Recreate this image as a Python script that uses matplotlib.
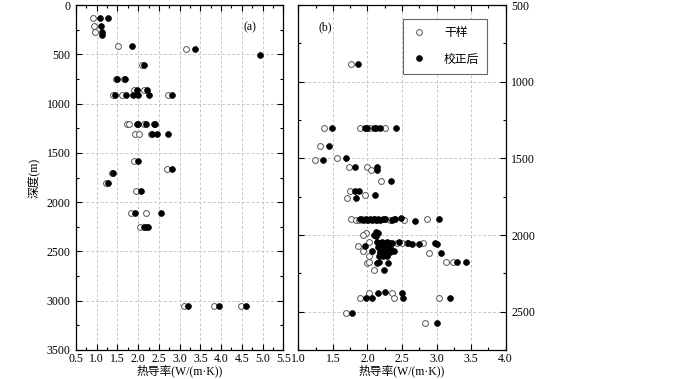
import matplotlib
matplotlib.use("Agg")
import matplotlib.pyplot as plt
from matplotlib.ticker import MultipleLocator
from matplotlib.lines import Line2D

plt.rcParams['font.family'] = ['Liberation Serif', 'Noto Sans CJK SC']
plt.rcParams['font.size'] = 8

# panel (a): thermal conductivity (W/(m·K)) and depth (m)
a_dry_k = [0.90, 0.94, 0.97, 1.51, 3.15, 2.10, 1.46, 1.66, 1.90, 2.15, 1.39, 1.62, 2.71,
           1.73, 1.77, 2.15, 1.92, 2.02, 2.31, 1.89, 2.69, 1.36, 1.23, 1.95, 1.83, 2.19,
           2.05, 3.11, 3.82, 4.47]
a_dry_d = [130, 210, 270, 415, 450, 610, 755, 755, 860, 860, 916, 916, 916,
           1207, 1207, 1207, 1308, 1308, 1308, 1582, 1660, 1707, 1803, 1885, 2115, 2115,
           2254, 3051, 3051, 3051]
a_cor_k = [1.08, 1.26, 1.10, 1.12, 1.12, 1.85, 3.37, 4.94, 2.15, 1.50, 1.69, 1.96, 2.21,
           1.44, 1.71, 1.87, 1.99, 2.26, 2.81, 1.97, 2.00, 2.19, 2.37, 2.40, 2.33, 2.45,
           2.73, 1.99, 2.82, 1.40, 1.27, 2.06, 1.93, 2.54, 2.15, 2.18, 2.24, 3.20, 3.94, 4.60]
a_cor_d = [130, 130, 210, 270, 305, 415, 450, 507, 610, 755, 755, 860, 860,
           916, 916, 916, 916, 916, 916, 1207, 1207, 1207, 1207, 1207, 1308, 1308,
           1308, 1582, 1660, 1707, 1803, 1885, 2115, 2115, 2254, 2254, 2254, 3051, 3051, 3051]

# panel (b)
b_dry_k = [1.76, 1.37, 1.89, 2.04, 2.26, 1.32, 1.56, 1.24, 1.74, 1.99, 2.05, 2.19, 1.75,
           1.96, 1.70,
           1.76, 1.84, 1.88, 1.92, 1.98, 2.09, 2.14, 2.26, 2.33, 2.38, 2.53, 2.86,
           1.98, 1.94,
           1.87, 2.03, 2.43, 2.50, 2.57, 2.80,
           1.93, 2.18, 2.89, 2.03,
           1.99, 2.02, 3.14, 3.24, 2.10,
           2.02, 2.36, 1.89, 2.38, 3.03, 1.69, 2.84]
b_dry_d = [883, 1304, 1304, 1304, 1304, 1420, 1496, 1513, 1559, 1559, 1576, 1646, 1713,
           1739, 1757,
           1893, 1900, 1905, 1893, 1900, 1893, 1905, 1893, 1900, 1893, 1905, 1893,
           1989, 2000,
           2070, 2043, 2050, 2054, 2050, 2050,
           2104, 2115, 2115, 2137,
           2185, 2178, 2178, 2178, 2228,
           2380, 2380, 2409, 2409, 2409, 2511, 2576]
b_cor_k = [1.87, 1.49, 1.97, 2.00, 2.10, 2.13, 2.18, 2.41, 1.44, 1.69, 1.36, 1.82, 2.14,
           2.14, 2.34, 1.82, 1.88, 2.11, 1.84,
           1.90, 1.94, 1.98, 2.01, 2.04, 2.06, 2.10, 2.13, 2.16, 2.18, 2.23, 2.26, 2.35,
           2.40, 2.48, 2.69, 3.03,
           2.12, 2.16, 2.09, 2.13,
           1.96, 2.14, 2.17, 2.21, 2.24, 2.28, 2.32, 2.35, 2.46, 2.59, 2.64, 2.75, 2.98, 3.00,
           2.16, 2.22, 2.28, 2.33,
           2.06, 2.18, 2.23, 2.28, 2.33, 2.38, 3.07,
           2.17, 2.23, 2.28,
           2.14, 2.17, 2.30, 3.29, 3.43, 2.24,
           2.15, 2.26, 2.50, 1.98, 2.07, 2.52, 3.19, 1.77, 3.01]
b_cor_d = [883, 1304, 1304, 1304, 1304, 1304, 1304, 1304, 1420, 1496, 1513, 1559, 1559,
           1576, 1646, 1713, 1713, 1739, 1757,
           1895, 1900, 1895, 1900, 1893, 1900, 1895, 1900, 1893, 1900, 1895, 1893, 1900,
           1893, 1888, 1909, 1893,
           1983, 1989, 2000, 2004,
           2070, 2043, 2050, 2043, 2050, 2046, 2054, 2050, 2048, 2050, 2060, 2060, 2050, 2060,
           2075, 2080, 2075, 2085,
           2104, 2110, 2115, 2104, 2110, 2104, 2120,
           2137, 2137, 2137,
           2185, 2178, 2185, 2178, 2178, 2228,
           2380, 2372, 2380, 2409, 2409, 2409, 2409, 2511, 2576]

xlabel = '热导率(W/(m·K))'
open_style = dict(ls='none', marker='o', ms=4.2, mfc='white', mec='#555555', mew=0.7)
fill_style = dict(ls='none', marker='o', ms=4.2, mfc='black', mec='black', mew=0.5)

fig = plt.figure(figsize=(7, 3.79), dpi=100)
ax1 = fig.add_axes([76 / 700, 1 - 350 / 379, 207.3 / 700, 345 / 379])
ax2 = fig.add_axes([298.3 / 700, 1 - 350 / 379, 207.3 / 700, 345 / 379])


def style(ax):
    ax.grid(True, which='major', ls=(0, (3, 2)), color='#c8c8c8', lw=0.7)
    ax.set_axisbelow(True)
    ax.tick_params(which='both', direction='in', top=True, bottom=True, left=True, right=True,
                   labelsize=8.5, width=0.8)
    ax.tick_params(which='major', length=4.5, pad=4)
    ax.tick_params(axis='x', which='major', pad=2.5)
    ax.tick_params(which='minor', length=2.5)
    ax.xaxis.set_minor_locator(MultipleLocator(0.25))
    ax.yaxis.set_minor_locator(MultipleLocator(250))
    ax.xaxis.set_major_locator(MultipleLocator(0.5))
    ax.yaxis.set_major_locator(MultipleLocator(500))
    for s in ax.spines.values():
        s.set_linewidth(0.9)
    ax.set_xlabel(xlabel, fontsize=8.5, labelpad=-1)


ax1.plot(a_dry_k, a_dry_d, **open_style)
ax1.plot(a_cor_k, a_cor_d, **fill_style)
ax1.set_xlim(0.5, 5.5)
ax1.set_ylim(3500, 0)
style(ax1)
ax1.set_ylabel('深度(m)', fontsize=8.5, labelpad=5)
ax1.text(0.84, 0.935, '(a)', transform=ax1.transAxes, fontsize=8.5, ha='center', va='center')

ax2.plot(b_dry_k, b_dry_d, **open_style)
ax2.plot(b_cor_k, b_cor_d, **fill_style)
ax2.set_xlim(1.0, 4.0)
ax2.set_ylim(2750, 500)
style(ax2)
ax2.tick_params(labelleft=False, labelright=True)
ax2.text(0.13, 0.935, '(b)', transform=ax2.transAxes, fontsize=8.5, ha='center', va='center')

handles = [Line2D([], [], **open_style), Line2D([], [], **fill_style)]
leg = ax2.legend(handles, ['干样', '校正后'], loc='upper left', bbox_to_anchor=(0.503, 0.959),
                 fancybox=False, edgecolor='#666666', framealpha=1, fontsize=8.5,
                 handlelength=1.4, handletextpad=1.4, borderpad=0.7, labelspacing=1.2,
                 borderaxespad=0)
leg.get_frame().set_linewidth(0.8)

fig.savefig('out.png', dpi=100)
